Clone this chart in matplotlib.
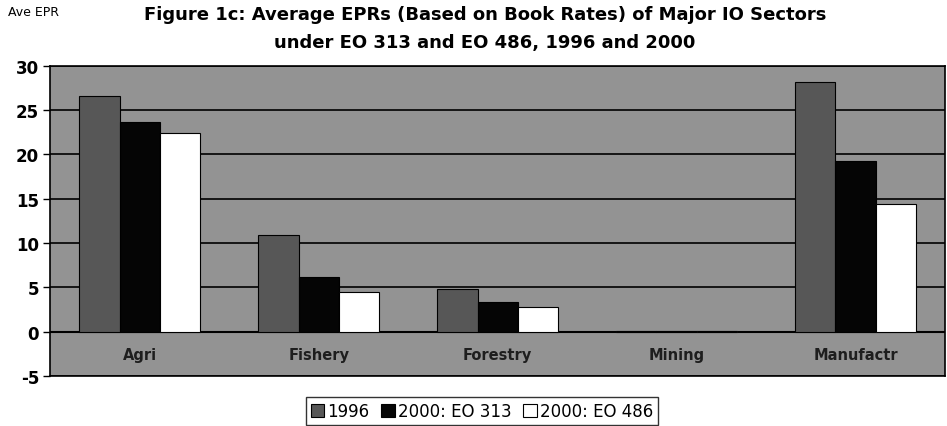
import matplotlib

matplotlib.use("Agg")
import matplotlib.pyplot as plt
import numpy as np

plt.rcParams["font.family"] = ["DejaVu Sans"]

sectors = ["Agri", "Fishery", "Forestry", "Mining", "Manufactr"]
epr_1996 = [26.6, 10.9, 4.8, 0.1, 28.2]
epr_2000_eo313 = [23.6, 6.2, 3.3, 0.1, 19.3]
epr_2000_eo486 = [22.4, 4.5, 2.8, 0.1, 14.4]
series_labels = ["1996", "2000: EO 313", "2000: EO 486"]
yticks = [-5, 0, 5, 10, 15, 20, 25, 30]

fig = plt.figure(figsize=(9.47, 4.27), dpi=100)
ax = fig.add_axes([0.053, 0.117, 0.945, 0.727])

x = np.arange(len(sectors))
width = 0.225
colors = ["#575757", "#050505", "#ffffff"]
for i, (vals, col) in enumerate(zip([epr_1996, epr_2000_eo313, epr_2000_eo486], colors)):
    ax.bar(x + (i - 1) * width, vals, width, color=col, edgecolor="black",
           linewidth=0.8, label=series_labels[i], zorder=3)

ax.set_facecolor("#939393")
ax.set_xlim(-0.5, len(sectors) - 0.5)
ax.set_ylim(-5, 30)
ax.set_yticks(yticks)
ax.set_yticklabels([str(t) for t in yticks], fontsize=12, fontweight="bold")
ax.yaxis.grid(True, color="black", linewidth=1.2, zorder=1)
ax.set_axisbelow(True)
ax.axhline(0, color="black", linewidth=1.5, zorder=2)
ax.set_xticks([])
ax.tick_params(axis="y", length=5, width=1, pad=3)
for s in ax.spines.values():
    s.set_linewidth(1.2)

for xi, name in zip(x, sectors):
    ax.text(xi, -2.6, name, ha="center", va="center", fontsize=10.5,
            fontweight="bold", color="#1e1e1e", zorder=4)

fig.text(0.008, 0.97, "Ave EPR", fontsize=9, ha="left", va="center")
fig.text(0.512, 0.965, "Figure 1c: Average EPRs (Based on Book Rates) of Major IO Sectors",
         fontsize=13, fontweight="bold", ha="center", va="center")
fig.text(0.512, 0.9, "under EO 313 and EO 486, 1996 and 2000",
         fontsize=13, fontweight="bold", ha="center", va="center")

leg = fig.legend(loc="center", bbox_to_anchor=(0.509, 0.035), ncol=3, fontsize=12,
                 frameon=True, fancybox=False, edgecolor="black", handlelength=0.8,
                 handleheight=0.8, handletextpad=0.2, columnspacing=0.7,
                 borderpad=0.3)
leg.get_frame().set_linewidth(1.0)

fig.savefig("out.png", dpi=100)
